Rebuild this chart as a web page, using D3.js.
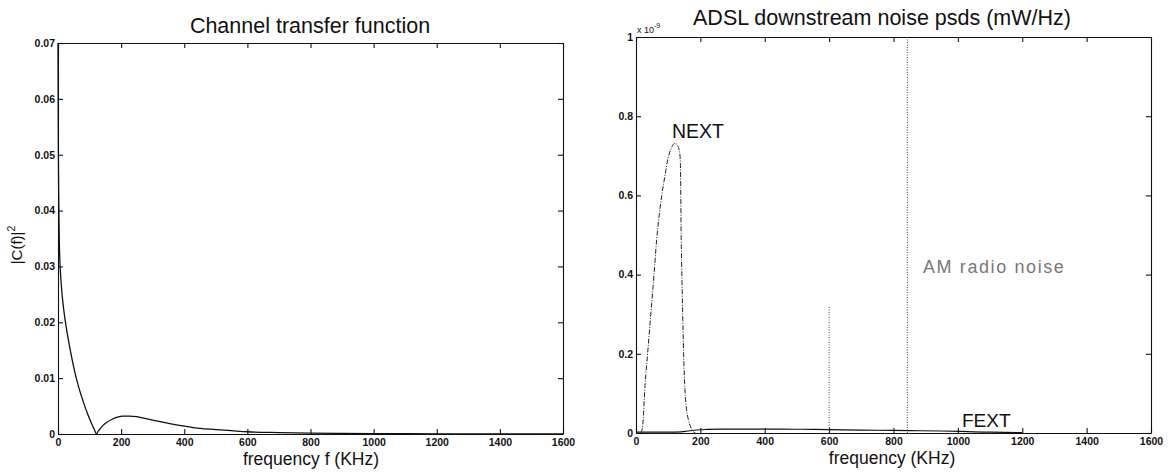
<!DOCTYPE html>
<html>
<head>
<meta charset="utf-8">
<script src="https://cdn.jsdelivr.net/npm/d3@7"></script>
<style>
  html, body { margin: 0; padding: 0; background: #fff; }
  svg { display: block; font-family: "Liberation Sans", Arial, Helvetica, sans-serif; }
  .tick text { font-size: 10.5px; font-weight: bold; fill: #111; }
  .domain, .tick line { stroke: #111; stroke-width: 1.1; }
</style>
</head>
<body>
<svg id="chart" width="1172" height="473"></svg>
<script>
// ---------- data ----------
// Left panel: channel transfer function |C(f)|^2 vs frequency (kHz)
const channelFreq = [0, 0.5, 1, 2, 3, 4, 6, 10, 17, 25, 33, 43, 54, 66, 80, 93, 107, 115, 122,
  126, 133, 142, 155, 170, 188, 206, 225, 250, 275, 300, 350, 400, 450, 500, 550, 600, 700, 800, 900, 1000, 1200, 1400, 1600];
const channelGain = [0.07, 0.06, 0.052, 0.044, 0.039, 0.035, 0.031, 0.027, 0.0228, 0.0195, 0.0168, 0.0138, 0.0109, 0.0083, 0.0058, 0.0037, 0.0018, 0.0008, 0.0,
  0.0004, 0.0009, 0.0015, 0.0021, 0.0026, 0.0030, 0.0032, 0.0032, 0.0031, 0.0028, 0.0025, 0.0019, 0.0014, 0.0010, 0.0008, 0.0006, 0.0004, 0.00025, 0.00015, 0.0001, 0.00007, 0.00004, 0.00002, 0.00001];

// Right panel: noise PSDs (units of 1e-9 mW/Hz)
const nextFreq = [15, 21, 28, 36, 43, 49, 56, 64, 72, 80, 90, 100, 110, 121, 130, 136, 138, 139, 140, 142, 145, 148, 152, 157, 163, 170, 177, 185];
const nextPsd  = [0, 0.02, 0.12, 0.2, 0.27, 0.33, 0.40, 0.487, 0.55, 0.60, 0.65, 0.695, 0.72, 0.732, 0.725, 0.705, 0.68, 0.62, 0.52, 0.42, 0.30, 0.20, 0.11, 0.06, 0.033, 0.015, 0.004, 0];

const fextFreq = [0, 50, 100, 140, 160, 180, 220, 270, 350, 450, 550, 650, 750, 850, 950, 1050, 1104, 1200];
const fextPsd  = [0.002, 0.002, 0.002, 0.003, 0.005, 0.007, 0.009, 0.010, 0.010, 0.010, 0.009, 0.008, 0.007, 0.006, 0.005, 0.003, 0.002, 0.001];

const amFreq = [600, 843];
const amPsd  = [0.32, 1.0];

const xTicks = [0, 200, 400, 600, 800, 1000, 1200, 1400, 1600];
const leftYTicks = [0, 0.01, 0.02, 0.03, 0.04, 0.05, 0.06, 0.07];
const rightYTicks = [0, 0.2, 0.4, 0.6, 0.8, 1];

// ---------- drawing ----------
const svg = d3.select("#chart");

function panel(x0, x1, yTop, yBot, yDomain, yTicks) {
  const x = d3.scaleLinear().domain([0, 1600]).range([x0, x1]);
  const y = d3.scaleLinear().domain(yDomain).range([yBot, yTop]);
  const g = svg.append("g");
  g.append("g").attr("transform", `translate(0,${yBot})`)
    .call(d3.axisBottom(x).tickValues(xTicks).tickFormat(d => String(d)).tickSizeInner(-5).tickSizeOuter(0).tickPadding(5));
  g.append("g").attr("transform", `translate(${x0},0)`)
    .call(d3.axisLeft(y).tickValues(yTicks).tickFormat(d => String(d)).tickSizeInner(-5).tickSizeOuter(0).tickPadding(3));
  g.append("g").attr("transform", `translate(0,${yTop})`)
    .call(d3.axisTop(x).tickValues(xTicks).tickFormat("").tickSizeInner(-5).tickSizeOuter(0));
  g.append("g").attr("transform", `translate(${x1},0)`)
    .call(d3.axisRight(y).tickValues(yTicks).tickFormat("").tickSizeInner(-5).tickSizeOuter(0));
  return {x, y, g};
}

// Left panel
const L = panel(58, 563, 43, 434, [0, 0.07], leftYTicks);
const chanData = channelFreq.map((f, i) => [f, channelGain[i]]);
L.g.append("path")
  .datum(chanData)
  .attr("fill", "none").attr("stroke", "#111").attr("stroke-width", 1.3)
  .attr("d", d3.line().x(d => L.x(d[0])).y(d => L.y(d[1])).curve(d3.curveMonotoneX));

svg.append("text").attr("x", 310).attr("y", 33).attr("text-anchor", "middle")
  .attr("font-size", 21.5).attr("fill", "#111").text("Channel transfer function");
svg.append("text").attr("x", 311).attr("y", 465).attr("text-anchor", "middle")
  .attr("font-size", 17.5).attr("fill", "#111").text("frequency f (KHz)");
const yl = svg.append("text").attr("transform", "translate(22,245) rotate(-90)")
  .attr("text-anchor", "middle").attr("font-size", 15).attr("fill", "#111");
yl.append("tspan").text("|C(f)|");
yl.append("tspan").attr("font-size", 10.5).attr("dy", -7).text("2");

// Right panel
const R = panel(636, 1151, 37, 433, [0, 1], rightYTicks);
const fextData = fextFreq.map((f, i) => [f, fextPsd[i]]);
R.g.append("path").datum(fextData)
  .attr("fill", "none").attr("stroke", "#111").attr("stroke-width", 1.2)
  .attr("d", d3.line().x(d => R.x(d[0])).y(d => R.y(d[1])).curve(d3.curveMonotoneX));
const nextData = nextFreq.map((f, i) => [f, nextPsd[i]]);
R.g.append("path").datum(nextData)
  .attr("fill", "none").attr("stroke", "#222").attr("stroke-width", 1)
  .attr("stroke-dasharray", "5,1.5,1,1.5")
  .attr("d", d3.line().x(d => R.x(d[0])).y(d => R.y(d[1])).curve(d3.curveMonotoneX));
R.g.selectAll(".am").data(amFreq.map((f, i) => [f, amPsd[i]])).enter().append("line")
  .attr("class", "am")
  .attr("x1", d => R.x(d[0])).attr("x2", d => R.x(d[0]))
  .attr("y1", R.y(0)).attr("y2", d => R.y(d[1]))
  .attr("stroke", "#444").attr("stroke-width", 1).attr("stroke-dasharray", "1,1.5");

svg.append("text").attr("x", 882).attr("y", 25).attr("text-anchor", "middle")
  .attr("font-size", 21.5).attr("fill", "#111").text("ADSL downstream noise psds (mW/Hz)");
svg.append("text").attr("x", 892).attr("y", 464).attr("text-anchor", "middle")
  .attr("font-size", 17.5).attr("fill", "#111").text("frequency (KHz)");
const ex = svg.append("text").attr("x", 637).attr("y", 33).attr("font-size", 9).attr("fill", "#111");
ex.append("tspan").text("x 10");
ex.append("tspan").attr("font-size", 7).attr("dy", -5).text("-9");

svg.append("text").attr("x", 672).attr("y", 138).attr("font-size", 19.5).attr("fill", "#111").text("NEXT");
svg.append("text").attr("x", 962).attr("y", 427).attr("font-size", 19).attr("fill", "#111").text("FEXT");
svg.append("text").attr("x", 923).attr("y", 273).attr("font-size", 18).attr("letter-spacing", 1.6)
  .attr("fill", "#777").text("AM radio noise");
</script>
</body>
</html>
